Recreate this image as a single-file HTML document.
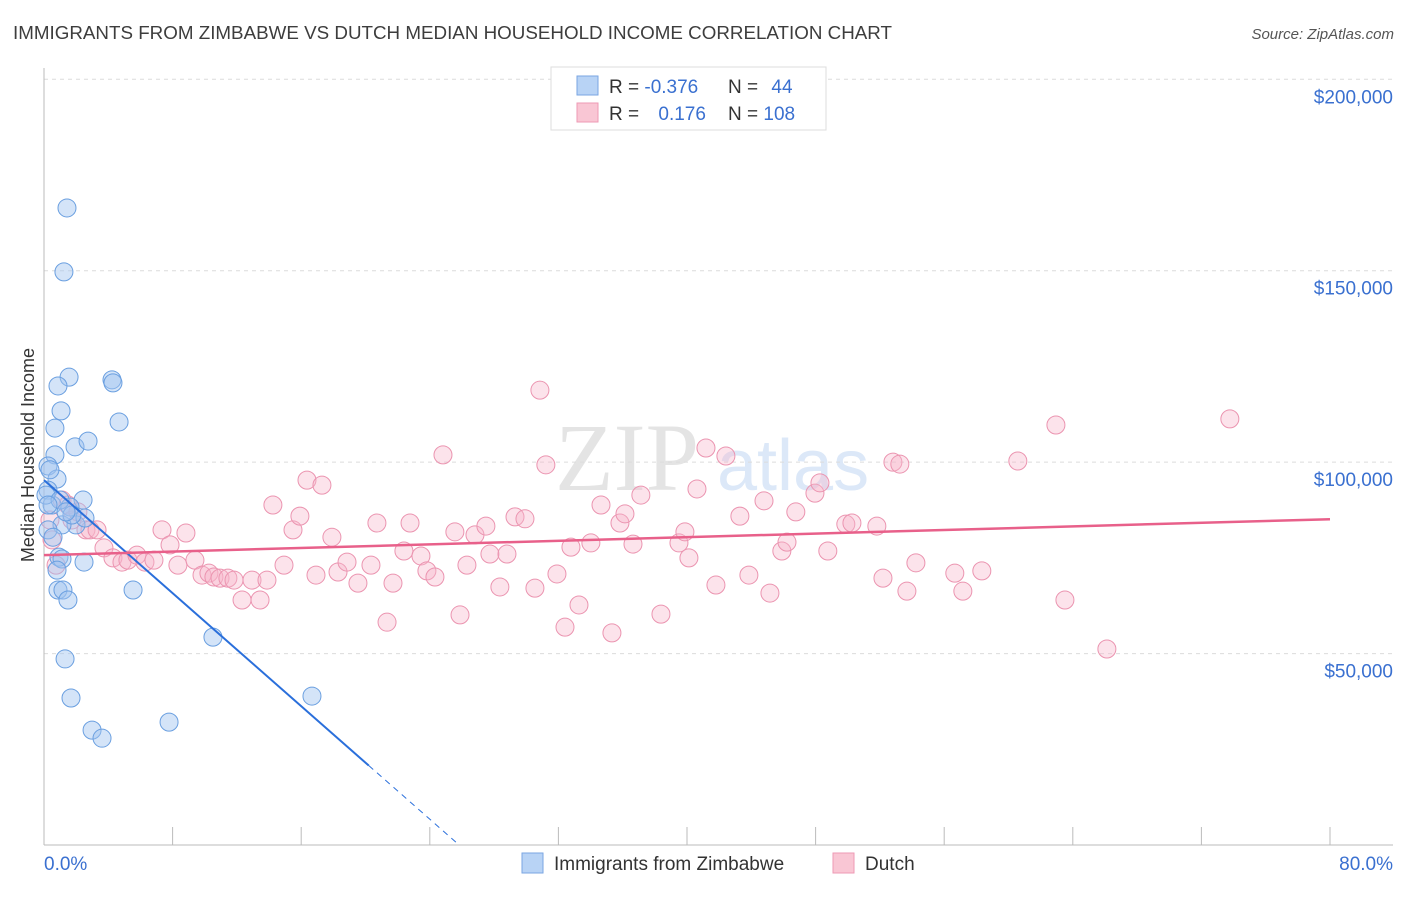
<!DOCTYPE html>
<html><head><meta charset="utf-8"><style>
body{margin:0;background:#fff;width:1406px;height:892px;overflow:hidden;font-family:"Liberation Sans",sans-serif}
</style></head><body>
<svg id="c" width="1406" height="892" xmlns="http://www.w3.org/2000/svg">
<text x="13" y="39" font-size="18" fill="#3d3d3d" textLength="879" lengthAdjust="spacingAndGlyphs">IMMIGRANTS FROM ZIMBABWE VS DUTCH MEDIAN HOUSEHOLD INCOME CORRELATION CHART</text>
<text x="1394" y="39" font-size="15" fill="#555" font-style="italic" text-anchor="end">Source: ZipAtlas.com</text>
<text x="555" y="490" font-size="96" fill="#e4e4e4" font-family="Liberation Serif,serif">ZIP</text>
<text x="717" y="490" font-size="72" fill="#dce8f8">atlas</text>
<text transform="translate(34,455) rotate(-90)" font-size="18" fill="#333" text-anchor="middle">Median Household Income</text>
<g id="grid"></g><g id="pts"></g><g id="lines"></g>
<g>
<rect x="551" y="67" width="275" height="63" fill="#fff" stroke="#ddd"/>
<rect x="577" y="76" width="21" height="19" fill="#b8d3f5" stroke="#7aa6e2"/>
<rect x="577" y="103" width="21" height="19" fill="#f9c6d4" stroke="#ee9ab4"/>
<text x="609" y="93" font-size="19" fill="#333">R = <tspan fill="#3a70d0">-0.376</tspan></text>
<text x="728" y="93" font-size="19" fill="#333">N = <tspan fill="#3a70d0" dx="8">44</tspan></text>
<text x="609" y="120" font-size="19" fill="#333">R = <tspan fill="#3a70d0" dx="14">0.176</tspan></text>
<text x="728" y="120" font-size="19" fill="#333">N = <tspan fill="#3a70d0">108</tspan></text>
</g>
<g>
<rect x="522" y="853" width="21" height="20" fill="#b8d3f5" stroke="#7aa6e2"/>
<text x="554" y="870" font-size="19" fill="#333">Immigrants from Zimbabwe</text>
<rect x="833" y="853" width="21" height="20" fill="#f9c6d4" stroke="#ee9ab4"/>
<text x="865" y="870" font-size="19" fill="#333">Dutch</text>
</g>
</svg>
<script>
const yTicks=[50,100,150,200];
const yTickLabels=["$50,000","$100,000","$150,000","$200,000"];
const xTickValues=[0,8,16,24,32,40,48,56,64,72,80];
const xEndLabels=["0.0%","80.0%"];
const blueX=[1.43,1.24,1.56,0.87,4.23,4.29,1.06,4.67,0.68,1.93,2.74,0.68,0.25,0.81,0.25,2.43,1.62,0.50,1.99,1.12,2.55,0.93,2.49,1.12,0.87,1.18,1.49,5.54,10.51,1.31,1.68,2.99,3.61,7.78,16.67,0.25,0.56,0.81,0.37,0.12,1.74,1.0,0.25,1.37];
const blueY=[166.4,149.7,122.2,119.9,121.5,120.7,113.4,110.5,108.9,104.0,105.5,101.9,99.0,95.6,92.7,90.1,88.3,88.8,83.6,83.6,85.4,75.2,73.9,74.7,66.6,66.6,64.0,66.6,54.3,48.6,38.4,30.0,27.9,32.1,38.9,82.3,80.4,71.8,98.0,91.4,86.2,90.1,88.8,87.0];
const pinkX=[0.37,0.50,0.75,1.12,1.49,1.74,2.11,2.61,2.86,3.30,3.73,4.29,4.85,5.22,5.78,6.28,6.84,7.34,7.84,8.33,8.83,9.39,9.83,10.26,10.57,10.95,11.44,11.82,12.32,12.94,13.44,13.87,14.24,14.93,15.49,15.92,16.36,16.92,17.29,17.91,18.29,
18.85,19.53,20.34,20.71,21.34,21.71,22.39,22.77,23.45,23.82,24.32,24.82,25.56,25.88,26.31,26.81,27.49,27.74,28.36,28.80,29.30,29.92,30.54,30.85,31.22,31.91,32.41,32.78,33.28,34.02,34.65,35.33,35.83,36.14,36.64,37.13,38.38,39.50,39.87,40.12,40.62,41.18,41.80,42.42,43.29,43.85,44.79,45.16,45.90,46.22,46.77,47.96,48.27,48.76,49.88,50.26,51.81,52.19,52.81,53.24,53.68,54.24,56.66,57.16,58.34,60.58,62.95,63.51,66.12,73.77];
const pinkY=[84.9,79.7,73.1,90.1,88.8,84.9,87.0,82.3,82.3,82.3,77.6,75.0,73.9,74.4,75.7,73.9,74.4,82.3,78.4,73.1,81.5,74.4,70.5,71.0,70.0,69.7,69.7,69.2,64.0,69.2,64.0,69.2,88.8,73.1,82.3,85.9,95.3,70.5,94.0,80.4,71.3,
73.9,68.4,73.1,84.1,58.2,68.4,76.8,84.1,75.5,71.6,70.0,101.9,81.8,60.1,73.1,81.0,83.3,76.0,67.4,76.0,85.7,85.2,67.1,118.8,99.3,70.8,56.9,77.8,62.7,78.9,88.8,55.4,84.1,86.5,78.6,91.4,60.3,78.9,81.8,75.0,93.0,103.7,67.9,101.6,85.9,70.5,89.9,65.8,76.8,79.1,87.0,91.9,94.6,76.8,83.8,84.1,83.3,69.7,100.0,99.5,66.3,73.7,71.0,66.3,71.6,100.3,109.7,64.0,51.2,111.3];
const blueTrend=[95.3,-3.69,20.2,25.8];
const pinkTrend=[75.7,85.1];
const NS="http://www.w3.org/2000/svg";
const X=v=>44+v/80*1286, Y=v=>845-v*3.8285;
function mk(t,a,p){const e=document.createElementNS(NS,t);for(const k in a)e.setAttribute(k,a[k]);p.appendChild(e);return e;}
const grid=document.getElementById('grid');
yTicks.forEach((t,i)=>{
 const l=mk('line',{x1:44,x2:1393,y1:Y(t),y2:Y(t),stroke:'#dcdcdc','stroke-dasharray':'4,4'},grid);
 
 
 const tx=mk('text',{x:1393,y:Y(t)+24,'font-size':19,fill:'#3a70d0','text-anchor':'end'},grid);tx.textContent=yTickLabels[i];
 
 
});
const ax=mk('line',{x1:44,x2:44,y1:68,y2:845,stroke:'#bbb'},grid);


const bx=mk('line',{x1:44,x2:1393,y1:845,y2:845,stroke:'#bbb'},grid);


xTickValues.forEach(t=>{const l=mk('line',{x1:X(t),x2:X(t),y1:827,y2:845,stroke:'#bbb'},grid);
 
 });
[[0,'start',44],[80,'end',1393]].forEach((d,i)=>{const t=mk('text',{x:d[2],y:870,'font-size':19,fill:'#3a70d0','text-anchor':d[1]},grid);t.textContent=xEndLabels[i];
 
 });
const pts=document.getElementById('pts');
pinkX.forEach((x,i)=>{const c=mk('circle',{cx:X(x),cy:Y(pinkY[i]),r:9,fill:'rgba(248,182,202,0.38)',stroke:'#eb94b0','stroke-width':1},pts);
 
 });
blueX.forEach((x,i)=>{const c=mk('circle',{cx:X(x),cy:Y(blueY[i]),r:9,fill:'rgba(160,196,240,0.45)',stroke:'#6a9fe0','stroke-width':1},pts);
 
 });
const lines=document.getElementById('lines');
const [b0,b1,bs,be]=blueTrend;
const l1=mk('line',{x1:X(0),y1:Y(b0),x2:X(bs),y2:Y(b0+b1*bs),stroke:'#2a6fdb','stroke-width':2},lines);


const l2=mk('line',{x1:X(bs),y1:Y(b0+b1*bs),x2:X(be),y2:Y(b0+b1*be),stroke:'#2a6fdb','stroke-width':1,'stroke-dasharray':'6,5'},lines);


const l3=mk('line',{x1:X(0),y1:Y(pinkTrend[0]),x2:X(80),y2:Y(pinkTrend[1]),stroke:'#e8608a','stroke-width':2.5},lines);


</script>
</body></html>
